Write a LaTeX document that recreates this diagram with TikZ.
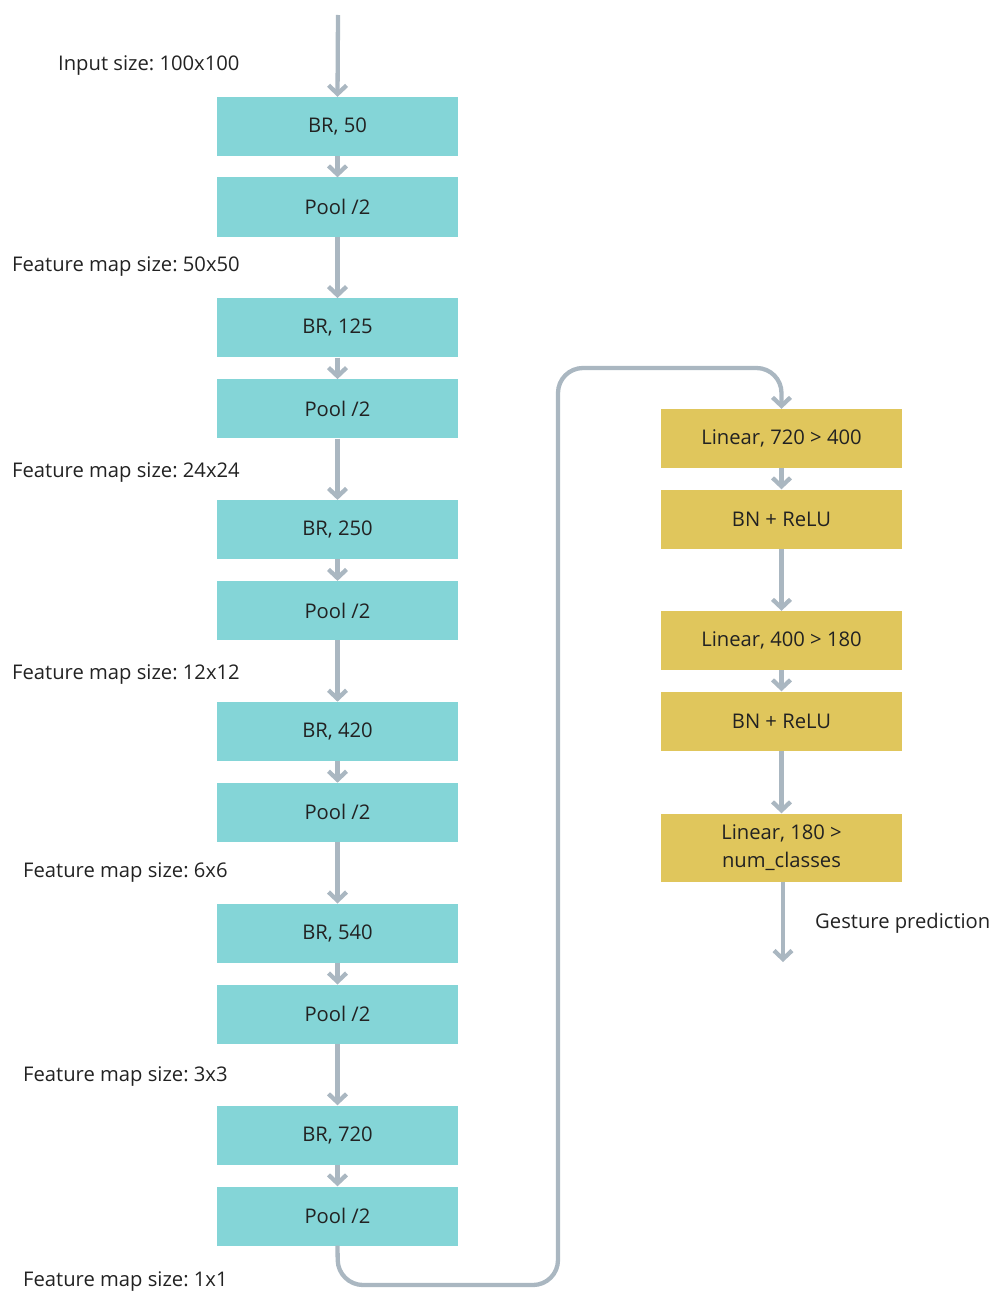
\documentclass[tikz,border=0pt]{standalone}
\usepackage{fontspec}
\setmainfont{Open Sans}
\usetikzlibrary{arrows.meta}
\definecolor{cyanbox}{HTML}{84D5D7}
\definecolor{yellowbox}{HTML}{E0C65C}
\definecolor{arrowgray}{HTML}{AAB7C1}
\definecolor{txt}{HTML}{222222}
\frenchspacing
\tikzset{
  cbox/.style={fill=cyanbox, minimum width=241pt, minimum height=59pt, inner sep=0pt, text=txt, font=\fontsize{20.2}{24}\selectfont},
  ybox/.style={fill=yellowbox, minimum width=241pt, minimum height=59pt, inner sep=0pt, text=txt, font=\fontsize{20.2}{28}\selectfont, align=center},
  lbl/.style={anchor=west, inner sep=0pt, text=txt, font=\fontsize{20.2}{24}\selectfont},
  arr/.style={draw=arrowgray, line width=4.3pt, -{Straight Barb[length=8.5pt,width=18pt]}},
  loopline/.style={draw=arrowgray, line width=4.3pt, rounded corners=25pt, -{Straight Barb[length=8.5pt,width=18pt]}}
}
\begin{document}
\begin{tikzpicture}[x=1pt,y=-1pt]
\useasboundingbox (0,0) rectangle (993,1292);
% cyan column
\node[cbox] (br1) at (337.5,126.5) {BR, 50};
\node[cbox] (p1) at (337.5,207) {Pool /2};
\node[cbox] (br2) at (337.5,327.8) {BR, 125};
\node[cbox] (p2) at (337.5,408.8) {Pool /2};
\node[cbox] (br3) at (337.5,529.6) {BR, 250};
\node[cbox] (p3) at (337.5,610.6) {Pool /2};
\node[cbox] (br4) at (337.5,731.4) {BR, 420};
\node[cbox] (p4) at (337.5,812.4) {Pool /2};
\node[cbox] (br5) at (337.5,933.2) {BR, 540};
\node[cbox] (p5) at (337.5,1014.2) {Pool /2};
\node[cbox] (br6) at (337.5,1135) {BR, 720};
\node[cbox] (p6) at (337.5,1216) {Pool /2};
% yellow column
\node[ybox] (l1) at (781.5,438.5) {Linear, 720 > 400};
\node[ybox] (bn1) at (781.5,519) {BN + ReLU};
\node[ybox] (l2) at (781.5,640.5) {Linear, 400 > 180};
\node[ybox] (bn2) at (781.5,721) {BN + ReLU};
\node[ybox, minimum height=68pt] (l3) at (781.5,847.5) {Linear, 180 >\\num\_classes};
% labels
\node[lbl] (t0) at (58,66) {Input size: 100x100};
\node[lbl] (t1) at (12,267) {Feature map size: 50x50};
\node[lbl] (t2) at (12,473) {Feature map size: 24x24};
\node[lbl] (t3) at (12,675) {Feature map size: 12x12};
\node[lbl] (t4) at (23,873) {Feature map size: 6x6};
\node[lbl] (t5) at (23,1077) {Feature map size: 3x3};
\node[lbl] (t6) at (23,1281) {Feature map size: 1x1};
\node[lbl] (tg) at (815,923) {Gesture prediction};
% coordinates
\coordinate (in) at (338,15);
\coordinate (c1) at (338,1285);
\coordinate (c2) at (558,1285);
\coordinate (c3) at (558,368);
\coordinate (c4) at (781.5,368);
\coordinate (out) at (783,962);
% connectors
\draw[arr] (in) -- (br1.north);
\draw[arr] (br1) -- (p1);
\draw[arr] (p1) -- (br2);
\draw[arr] (br2) -- (p2);
\draw[arr] (p2) -- (br3);
\draw[arr] (br3) -- (p3);
\draw[arr] (p3) -- (br4);
\draw[arr] (br4) -- (p4);
\draw[arr] (p4) -- (br5);
\draw[arr] (br5) -- (p5);
\draw[arr] (p5) -- (br6);
\draw[arr] (br6) -- (p6);
\draw[loopline] (p6.south) -- (c1) -- (c2) -- (c3) -- (c4) -- (l1.north);
\draw[arr] (l1) -- (bn1);
\draw[arr] (bn1) -- (l2);
\draw[arr] (l2) -- (bn2);
\draw[arr] (bn2) -- (l3);
\draw[arr] (l3.south -| out) -- (out);
\end{tikzpicture}
\end{document}
